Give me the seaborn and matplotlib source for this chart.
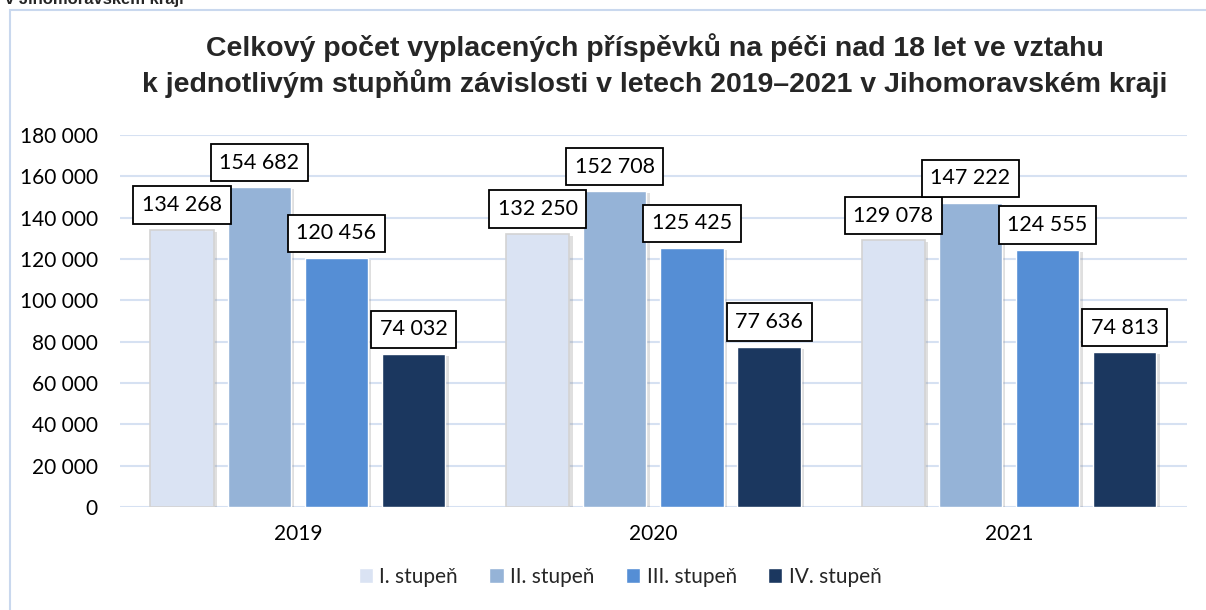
import numpy as np
import pandas as pd
import seaborn as sns
import matplotlib.pyplot as plt
import matplotlib.patheffects as pe
from matplotlib.patches import Rectangle

years = ['2019', '2020', '2021']
stupne = ['I. stupeň', 'II. stupeň', 'III. stupeň', 'IV. stupeň']
stupen_1 = [134268, 132250, 129078]
stupen_2 = [154682, 152708, 147222]
stupen_3 = [120456, 125425, 124555]
stupen_4 = [74032, 77636, 74813]
y_ticks = [0, 20000, 40000, 60000, 80000, 100000, 120000, 140000, 160000, 180000]
colors = ['#DAE3F3', '#95B3D7', '#558ED5', '#1B375F']

title = ('Celkový počet vyplacených příspěvků na péči nad 18 let ve vztahu\n'
         'k jednotlivým stupňům závislosti v letech 2019–2021 v Jihomoravském kraji')


def fmt(v):
    return f'{int(v):,}'.replace(',', ' ')


df = pd.DataFrame({
    'Rok': years * 4,
    'Stupeň': [s for s in stupne for _ in years],
    'Počet': stupen_1 + stupen_2 + stupen_3 + stupen_4,
})

sns.set_style('white')
plt.rcParams['font.family'] = ['Lato', 'DejaVu Sans']

fig = plt.figure(figsize=(12.06, 6.10), dpi=100)
ax = fig.add_axes([0.0995, 0.1689, 0.8845, 0.6098])

# frame of the chart box (only left and top edges are visible)
fig.patches.append(Rectangle((10 / 1206, -0.1), 1.2, 600 / 610 + 0.1,
                             transform=fig.transFigure, fill=False,
                             edgecolor='#C9D8EE', linewidth=1.5, zorder=0))

sns.barplot(data=df, x='Rok', y='Počet', hue='Stupeň', hue_order=stupne,
            palette=colors, width=0.868, gap=0.18, saturation=1,
            ax=ax, zorder=3, legend=True)

shadow = [pe.SimplePatchShadow(offset=(2.5, -1.5), shadow_rgbFace='#808080', alpha=0.25),
          pe.Normal()]
for i, cont in enumerate(ax.containers):
    for bar in cont:
        bar.set_path_effects(shadow)
        if i == 0:
            bar.set_edgecolor('#D3D3D3')
            bar.set_linewidth(1.2)
    for bar in cont:
        h = bar.get_height()
        ax.annotate(fmt(h), (bar.get_x() + bar.get_width() / 2, h),
                    xytext=(0, 10.5), textcoords='offset points',
                    ha='center', va='bottom', fontsize=15.5, color='black',
                    bbox=dict(boxstyle='square,pad=0.4', fc='white', ec='black', lw=1.3),
                    zorder=5)

ax.set_ylim(0, 180000)
ax.set_xlim(-0.5, 2.5)
ax.set_yticks(y_ticks)
ax.set_yticklabels([fmt(t) for t in y_ticks])
ax.yaxis.grid(True, color='#D6E1F2', linewidth=1.5, zorder=0)
ax.set_axisbelow(True)
for s in ax.spines.values():
    s.set_visible(False)
ax.tick_params(axis='both', length=0, labelsize=15, colors='black')
ax.tick_params(axis='y', pad=16)
ax.tick_params(axis='x', pad=12)
ax.set_xlabel('')
ax.set_ylabel('')

handles, labels = ax.get_legend_handles_labels()
ax.legend(handles, labels, loc='center', bbox_to_anchor=(620 / 1206, 33 / 610),
          bbox_transform=fig.transFigure, ncol=4, frameon=False, fontsize=15,
          handlelength=0.7, handleheight=0.7, handletextpad=0.3, columnspacing=1.5)

fig.text(655 / 1206, 0.8926, title, ha='center', va='center', fontsize=20.5,
         fontweight='bold', linespacing=1.3, multialignment='center',
         family=['Liberation Sans Narrow', 'Liberation Sans', 'DejaVu Sans'])
fig.text(0.004, 1 - 4 / 610, 'v Jihomoravském kraji', ha='left', va='baseline',
         fontsize=12, fontweight='bold',
         family=['Liberation Sans Narrow', 'Liberation Sans', 'DejaVu Sans'])

fig.savefig('out.png', dpi=100)
